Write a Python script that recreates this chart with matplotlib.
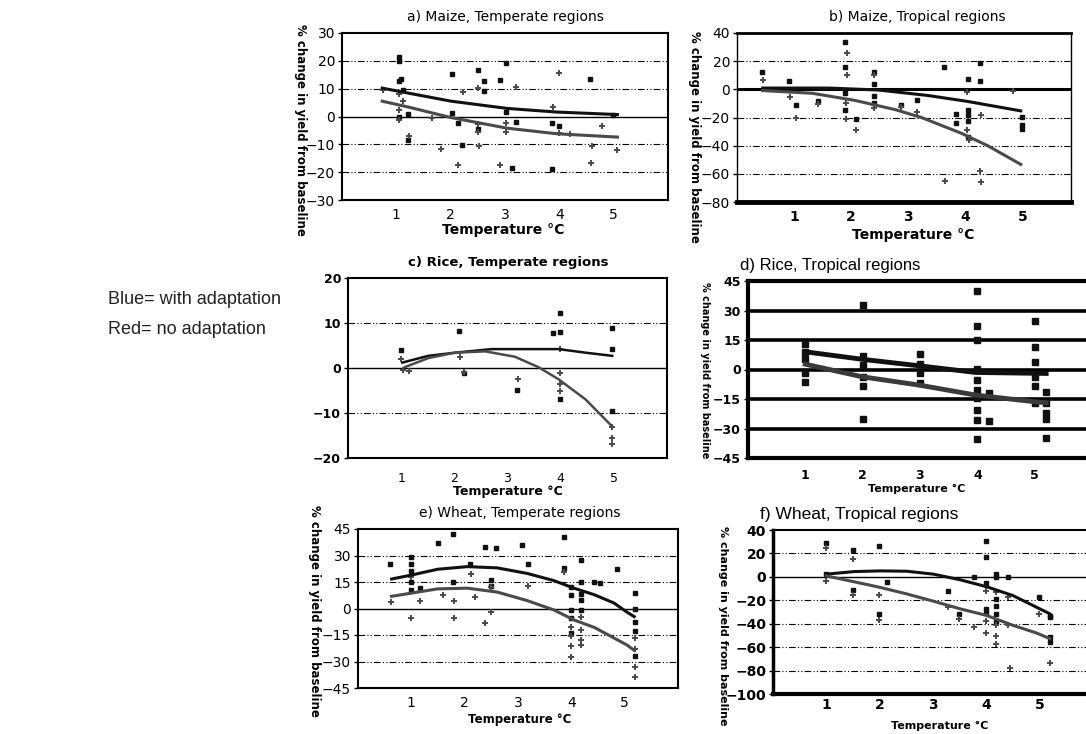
import matplotlib
matplotlib.use("Agg")
import matplotlib.pyplot as plt

# ---------------------------------------------------------------------------
# Data (x = temperature change °C, y = % change in yield)
# ---------------------------------------------------------------------------

# a) Maize, temperate
a_adapt_x = [1.05, 1.05, 1.09, 1.05, 1.12, 1.05, 1.21, 1.22, 2.02, 2.03, 2.13, 2.21, 2.51,
             2.62, 2.62, 2.51, 2.90, 3.01, 3.01, 3.21, 3.12, 3.87, 3.99, 3.87, 4.57, 4.98]
a_adapt_y = [21.5, 19.9, 13.3, 12.9, 9.6, 0.0, 0.8, -8.5, 15.3, 1.4, -2.3, -10.3, 16.8,
             12.9, 9.0, -4.4, 13.1, 19.4, 1.6, -1.9, -18.5, -2.3, -3.5, -18.9, 13.3, 0.5]
a_none_x = [0.75, 1.05, 1.12, 1.05, 1.05, 1.24, 1.65, 1.83, 2.13, 2.23, 2.51, 2.51, 2.51,
            2.53, 2.90, 3.01, 3.01, 3.21, 3.88, 3.99, 3.99, 4.20, 4.60, 4.59, 4.78, 5.07]
a_none_y = [9.6, 8.2, 5.7, 2.3, -1.2, -7.0, -0.7, -11.5, -17.5, 8.8, 10.2, -2.7, -5.4,
            -10.5, -17.3, -2.3, -5.4, 10.5, 3.5, 15.8, -5.8, -6.2, -10.5, -16.7, -3.5, -12.0]
a_fit_x = [0.74, 1.22, 2.01, 3.04, 3.95, 5.07]
a_fit_adapt = [10.2, 8.4, 5.5, 2.9, 1.6, 0.7]
a_fit_none = [5.5, 3.4, -0.4, -4.2, -6.2, -7.4]

# b) Maize, tropical
b_adapt_x = [0.44, 0.91, 1.03, 1.41, 1.90, 1.90, 1.90, 1.90, 2.08, 2.40, 2.40, 2.40, 2.40,
             2.87, 3.15, 3.63, 3.84, 3.84, 4.04, 4.04, 4.04, 4.04, 4.04, 4.26, 4.26,
             5.00, 5.00, 5.00]
b_adapt_y = [12.6, 5.6, -11.4, -8.4, 33.5, 15.8, -2.8, -14.4, -21.4, 12.3, 3.7, -4.7, -9.5,
             -11.4, -7.9, 15.8, -17.2, -23.7, 7.2, -14.9, -18.4, -22.3, -33.5, 18.8, 6.0,
             -19.5, -25.3, -28.4]
b_none_x = [0.45, 0.92, 1.03, 1.42, 1.93, 1.93, 1.91, 1.91, 2.09, 2.40, 2.40, 2.88, 3.16,
            3.64, 4.03, 4.03, 4.06, 4.28, 4.28, 4.26, 4.84]
b_none_y = [6.5, -5.1, -20.0, -10.7, 25.8, 10.0, -9.8, -21.4, -28.8, 10.0, -13.0, -12.6,
            -16.0, -64.9, -2.1, -28.8, -35.8, -17.9, -65.6, -57.9, -1.4]
b_fit_adapt_x = [0.45, 1.61, 2.48, 3.35, 4.04, 4.97]
b_fit_adapt = [0.9, 0.9, -0.5, -4.4, -8.6, -15.3]
b_fit_none_x = [0.45, 1.32, 2.07, 2.77, 3.23, 3.93, 4.39, 4.97]
b_fit_none = [-0.9, -2.8, -7.9, -14.4, -20.0, -31.2, -40.0, -53.3]

# c) Rice, temperate
c_adapt_x = [1.00, 2.09, 2.19, 3.18, 3.86, 3.98, 3.98, 3.98, 4.97, 4.97, 4.97]
c_adapt_y = [3.9, 8.3, -1.0, -4.8, 7.7, 12.2, 8.0, -6.9, 8.8, 4.2, -9.5]
c_none_x = [1.00, 1.04, 1.14, 2.11, 2.19, 3.19, 3.98, 3.98, 3.98, 3.98, 4.97, 4.97, 4.97]
c_none_y = [1.9, -0.4, -0.7, 2.4, -0.9, -2.5, 4.3, -1.0, -3.6, -5.2, -13.0, -15.5, -16.9]
c_fit_adapt_x = [1.02, 1.51, 2.01, 2.70, 3.96, 4.47, 4.97]
c_fit_adapt = [1.2, 2.7, 3.4, 4.2, 4.2, 3.4, 2.7]
c_fit_none_x = [1.07, 1.51, 2.01, 2.58, 3.14, 3.58, 3.96, 4.47, 4.97]
c_fit_none = [0.2, 2.2, 3.4, 3.7, 2.5, 0.2, -2.5, -7.0, -13.0]

# d) Rice, tropical (one marker style only)
d_pts_x = [1, 1, 1, 1, 1, 2, 2, 2, 2, 2, 2, 3, 3, 3, 3,
           4, 4, 4, 4, 4, 4, 4, 4, 4, 4, 4.2, 4.2,
           5, 5, 5, 5, 5, 5, 5.2, 5.2, 5.2, 5.2, 5.2]
d_pts_y = [13.2, 9.0, 5.1, -2.0, -6.3, 32.6, 6.8, 2.2, -3.7, -8.4, -25.3, 8.1, 3.0, -2.0, -6.8,
           39.9, 22.0, 14.9, 0.5, -5.4, -10.5, -14.7, -20.6, -25.7, -35.5, -12.2, -26.0,
           24.5, 11.5, 3.9, -3.7, -8.4, -17.2, -11.3, -17.2, -22.3, -25.3, -35.0]
d_fit_adapt_x = [1.0, 1.99, 2.98, 3.97, 5.2]
d_fit_adapt = [9.0, 5.2, 1.9, -1.5, -2.0]
d_fit_none_x = [1.0, 1.99, 2.98, 3.97, 5.0, 5.2]
d_fit_none = [2.7, -3.7, -7.9, -13.0, -16.4, -16.9]

# e) Wheat, temperate
e_adapt_x = [0.60, 1.00, 1.00, 1.00, 1.00, 1.00, 1.16, 1.50, 1.79, 1.79, 2.10, 2.38, 2.59,
             2.50, 2.50, 3.08, 3.18, 3.86, 3.86, 3.99, 3.99, 3.99, 3.99, 3.99, 4.18, 4.18,
             4.18, 4.18, 4.18, 4.43, 4.53, 4.85, 5.19, 5.19, 5.19, 5.19, 5.19]
e_adapt_y = [25.0, 29.1, 25.0, 21.3, 14.8, 10.6, 11.5, 37.0, 42.2, 14.8, 25.0, 34.8, 34.3,
             16.3, 13.0, 35.7, 25.4, 40.2, 23.1, 12.0, 7.4, -0.9, -5.2, -13.9, 27.2, 15.2,
             8.3, 4.6, -0.9, 15.2, 14.4, 22.2, 8.9, 0.0, -7.4, -13.0, -26.9]
e_none_x = [0.61, 1.00, 1.00, 1.16, 1.60, 1.80, 1.80, 2.11, 2.19, 2.39, 2.50, 2.50, 3.19,
            3.86, 3.99, 3.99, 4.00, 4.00, 4.18, 4.18, 4.19, 4.19, 5.19, 5.19, 5.19, 5.19]
e_none_y = [3.7, 17.6, -5.6, 4.1, 7.4, 4.1, -5.6, 19.8, 6.5, -8.3, -2.2, 12.0, 13.0,
            20.4, -10.2, -15.7, -21.3, -27.4, -5.0, -12.0, -18.0, -20.7, -16.7, -23.1,
            -33.3, -38.5]
e_fit_x = [0.63, 1.0, 1.49, 2.05, 2.61, 3.18, 3.68, 4.05, 4.43, 4.80, 5.05, 5.18]
e_fit_adapt = [16.7, 18.9, 22.2, 23.7, 23.0, 19.8, 15.7, 11.5, 7.8, 3.1, -2.2, -4.6]
e_fit_none = [6.9, 8.7, 11.1, 11.5, 9.3, 4.4, -0.9, -6.5, -10.7, -16.7, -20.8, -23.7]

# f) Wheat, tropical
f_adapt_x = [1.00, 1.00, 1.50, 1.50, 1.98, 1.98, 2.13, 3.28, 3.48, 3.77, 3.99, 3.99, 3.99,
             3.99, 3.99, 4.19, 4.19, 4.19, 4.19, 4.19, 4.19, 4.41, 4.99, 5.19, 5.19, 5.19, 5.19]
f_adapt_y = [29.0, 2.3, 22.8, -11.3, 26.2, -32.1, -4.8, -12.4, -32.1, 0.0, 31.0, 16.9, -5.6,
             -27.3, -30.7, 2.8, 0.0, -18.9, -24.5, -31.5, -38.6, 0.0, -16.9, -33.0, -34.4,
             -51.3, -55.5]
f_none_x = [1.00, 1.00, 1.50, 1.50, 1.98, 1.98, 3.28, 3.48, 3.77, 3.99, 3.99, 3.99, 4.19,
            4.19, 4.19, 4.19, 4.41, 4.41, 4.44, 4.99, 5.19]
f_none_y = [24.8, -3.9, 14.9, -15.5, -15.5, -37.2, -25.9, -36.3, -42.8, -11.8, -38.0, -47.9,
            -13.2, -41.4, -50.7, -57.5, -17.5, -40.8, -78.0, -31.5, -73.2]
f_fit_x = [1.0, 1.52, 2.01, 2.51, 3.01, 3.51, 4.01, 4.50, 4.94, 5.19]
f_fit_adapt = [2.3, 4.5, 5.1, 4.8, 2.3, -2.5, -8.5, -16.0, -25.9, -31.5]
f_fit_none = [0.8, -4.2, -9.0, -14.6, -20.8, -27.3, -33.0, -41.4, -47.9, -52.7]

x_ticks = [1, 2, 3, 4, 5]

# ---------------------------------------------------------------------------
W, H = 1086, 734
DARK = "#111111"
GREY = "#4a4a4a"

fig = plt.figure(figsize=(W / 100, H / 100), dpi=100)
fig.patch.set_facecolor("white")


def px_axes(left, top, right, bottom):
    return fig.add_axes([left / W, 1 - bottom / H, (right - left) / W, (bottom - top) / H])


def ftext(x, y, s, **kw):
    return fig.text(x / W, 1 - y / H, s, **kw)


def setup(ax, xlim, yticks, grid_lw=0.8, grid_style=(0, (6, 2, 1, 2, 1, 2)),
          spine_lw=1.5, tick_font=None, zero_lw=1.0):
    ax.set_xlim(*xlim)
    ax.set_ylim(yticks[0], yticks[-1])
    ax.set_yticks(yticks)
    ax.set_xticks(x_ticks)
    for y in yticks[1:-1]:
        if y == 0:
            ax.axhline(0, color="black", lw=zero_lw, zorder=1)
        else:
            ax.axhline(y, color="black", lw=grid_lw, ls=grid_style, zorder=1)
    for s in ax.spines.values():
        s.set_linewidth(spine_lw)
        s.set_color("black")
    ax.tick_params(axis="x", length=0, pad=6)
    ax.tick_params(axis="y", length=3, width=1, pad=2)
    font = tick_font or dict(size=10)
    for lab in ax.get_xticklabels() + ax.get_yticklabels():
        lab.set_fontsize(font.get("size", 10))
        lab.set_fontweight(font.get("weight", "normal"))
    ax.set_facecolor("white")


def scatter_pair(ax, ax_x, ax_y, nx, ny, ms=3.2):
    ax.plot(ax_x, ax_y, ls="none", marker="s", ms=ms, color=DARK, zorder=3)
    ax.plot(nx, ny, ls="none", marker="+", ms=ms + 1.5, mew=1.4, color=GREY, zorder=3)


# a) Maize, Temperate regions
ax = px_axes(342, 33, 668, 200)
setup(ax, (0, 6), [-30, -20, -10, 0, 10, 20, 30])
scatter_pair(ax, a_adapt_x, a_adapt_y, a_none_x, a_none_y)
ax.plot(a_fit_x, a_fit_adapt, color=DARK, lw=2.2, zorder=4)
ax.plot(a_fit_x, a_fit_none, color=GREY, lw=2.2, zorder=4)
ftext(505, 17, "a) Maize, Temperate regions", ha="center", va="center", fontsize=10)
ftext(503, 230, "Temperature °C", ha="center", va="center", fontsize=10, fontweight="bold")
ftext(300, 130, "% change in yield from baseline", rotation=270, ha="center", va="center",
      fontsize=8.5, fontweight="bold")

# b) Maize, Tropical regions
ax = px_axes(737, 33, 1071, 202)
setup(ax, (0, 5.85), [-80, -60, -40, -20, 0, 20, 40], zero_lw=2.2)
ax.spines["bottom"].set_linewidth(3.5)
ax.spines["top"].set_linewidth(2)
ax.spines["left"].set_linewidth(1)
ax.spines["right"].set_linewidth(1)
scatter_pair(ax, b_adapt_x, b_adapt_y, b_none_x, b_none_y)
ax.plot(b_fit_adapt_x, b_fit_adapt, color=DARK, lw=2.2, zorder=4)
ax.plot(b_fit_none_x, b_fit_none, color=GREY, lw=2.2, zorder=4)
for lab in ax.get_xticklabels():
    lab.set_fontweight("bold")
ftext(917, 17, "b) Maize, Tropical regions", ha="center", va="center", fontsize=10)
ftext(913, 235, "Temperature °C", ha="center", va="center", fontsize=10, fontweight="bold")
ftext(695, 137, "% change in yield from baseline", rotation=270, ha="center", va="center",
      fontsize=8.5, fontweight="bold")

# c) Rice, Temperate regions
ax = px_axes(348, 278, 667, 458)
setup(ax, (0, 6), [-20, -10, 0, 10, 20], tick_font=dict(size=9, weight="bold"))
scatter_pair(ax, c_adapt_x, c_adapt_y, c_none_x, c_none_y, ms=2.8)
ax.plot(c_fit_adapt_x, c_fit_adapt, color=DARK, lw=1.8, zorder=4)
ax.plot(c_fit_none_x, c_fit_none, color=GREY, lw=1.8, zorder=4)
ax.tick_params(axis="x", pad=10)
for lab in ax.get_xticklabels():
    lab.set_fontweight("normal")
ftext(508, 262, "c) Rice, Temperate regions", ha="center", va="center", fontsize=9.5,
      fontweight="bold")
ftext(508, 492, "Temperature °C", ha="center", va="center", fontsize=9, fontweight="bold")

# d) Rice, Tropical regions
ax = px_axes(748, 281, 1092, 458)
setup(ax, (0, 6), [-45, -30, -15, 0, 15, 30, 45], grid_lw=2.6, grid_style="-",
      spine_lw=3, tick_font=dict(size=9, weight="bold"), zero_lw=2.6)
ax.plot(d_pts_x, d_pts_y, ls="none", marker="s", ms=4, color=DARK, zorder=3)
ax.plot(d_fit_adapt_x, d_fit_adapt, color=DARK, lw=3.5, zorder=4)
ax.plot(d_fit_none_x, d_fit_none, color="#3a3a3a", lw=3.5, zorder=4)
ax.tick_params(axis="x", pad=8)
ftext(740, 265, "d) Rice, Tropical regions", ha="left", va="center", fontsize=12,
      family="Liberation Sans")
ftext(917, 489, "Temperature °C", ha="center", va="center", fontsize=8, fontweight="bold")
ftext(705, 370, "% change in yield from baseline", rotation=270, ha="center", va="center",
      fontsize=7, fontweight="bold")

# e) Wheat, Temperate regions
ax = px_axes(358, 529, 678, 688)
setup(ax, (0, 6), [-45, -30, -15, 0, 15, 30, 45])
scatter_pair(ax, e_adapt_x, e_adapt_y, e_none_x, e_none_y)
ax.plot(e_fit_x, e_fit_adapt, color=DARK, lw=2.2, zorder=4)
ax.plot(e_fit_x, e_fit_none, color=GREY, lw=2.2, zorder=4)
ftext(520, 513, "e) Wheat, Temperate regions", ha="center", va="center", fontsize=10)
ftext(520, 720, "Temperature °C", ha="center", va="center", fontsize=8.5, fontweight="bold")
ftext(314, 611, "% change in yield from baseline", rotation=270, ha="center", va="center",
      fontsize=8.5, fontweight="bold")

# f) Wheat, Tropical regions
ax = px_axes(773, 530, 1093, 694)
setup(ax, (0, 6), [-100, -80, -60, -40, -20, 0, 20, 40],
      tick_font=dict(size=10, weight="bold"))
ax.spines["left"].set_linewidth(2.5)
ax.spines["bottom"].set_linewidth(3)
scatter_pair(ax, f_adapt_x, f_adapt_y, f_none_x, f_none_y)
ax.plot(f_fit_x, f_fit_adapt, color=DARK, lw=2.2, zorder=4)
ax.plot(f_fit_x, f_fit_none, color=GREY, lw=2.2, zorder=4)
ax.tick_params(axis="x", pad=3)
ftext(760, 515, "f) Wheat, Tropical regions", ha="left", va="center", fontsize=12.5,
      family="Liberation Sans")
ftext(940, 726, "Temperature °C", ha="center", va="center", fontsize=8, fontweight="bold")
ftext(723, 626, "% change in yield from baseline", rotation=270, ha="center", va="center",
      fontsize=8, fontweight="bold")

# legend note on the left, kept clear of panel c
ftext(108, 299, "Blue= with adaptation", ha="left", va="center", fontsize=13,
      family="Liberation Sans", color="#222222")
ftext(108, 329, "Red= no adaptation", ha="left", va="center", fontsize=13,
      family="Liberation Sans", color="#222222")

fig.savefig("out.png", dpi=100, facecolor="white")
